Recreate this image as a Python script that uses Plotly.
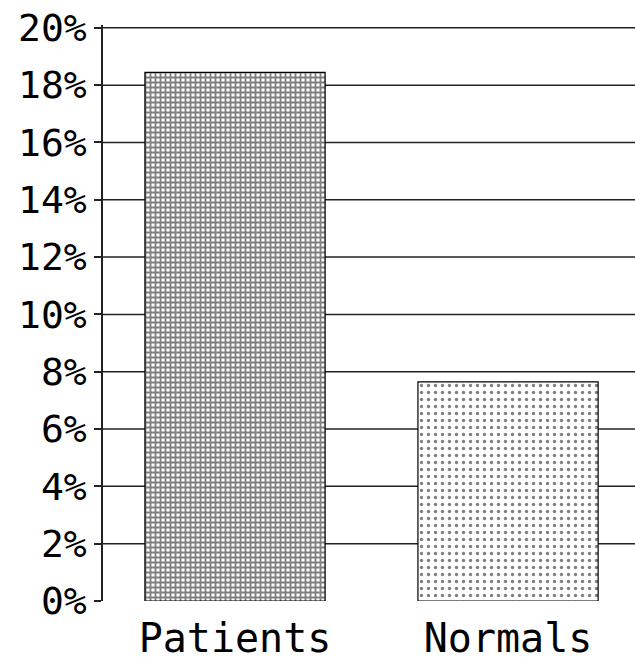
import plotly.graph_objects as go

categories = ["Patients", "Normals"]
values = [18.45, 7.65]
tick_values = [0, 2, 4, 6, 8, 10, 12, 14, 16, 18, 20]
tick_labels = ["0%", "2%", "4%", "6%", "8%", "10%", "12%", "14%", "16%", "18%", "20%"]

patterns = [
    dict(shape="+", size=5, solidity=0.6, fgcolor="black", bgcolor="white"),
    dict(shape=".", size=7, solidity=0.18, fgcolor="black", bgcolor="white"),
]

fig = go.Figure()
for cat, val, pat in zip(categories, values, patterns):
    fig.add_trace(go.Bar(
        x=[cat], y=[val],
        width=0.66,
        marker=dict(color="white", pattern=pat, line=dict(color="black", width=1.2)),
        showlegend=False,
    ))

for tv in tick_values[1:]:
    fig.add_shape(type="line", xref="paper", x0=0, x1=1, yref="y", y0=tv, y1=tv,
                  line=dict(color="#222", width=1.5), layer="below")

fig.update_layout(
    width=635, height=663,
    margin=dict(l=103, r=0, t=25, b=62),
    plot_bgcolor="white", paper_bgcolor="white",
    font=dict(family="DejaVu Sans Mono", color="black"),
    barmode="overlay",
    xaxis=dict(showgrid=False, showline=False, ticks="", tickfont=dict(size=40),
               ticklabelstandoff=10,
               range=[-0.4835, 1.465], automargin=False,
               categoryorder="array", categoryarray=categories),
    yaxis=dict(range=[0, 20.1], tickvals=tick_values, ticktext=tick_labels,
               showgrid=False, zeroline=False, showline=True, linecolor="#222", linewidth=1.5,
               ticks="outside", ticklen=7, tickcolor="#222", tickwidth=1.5,
               tickfont=dict(size=38), automargin=False),
)

fig.write_html("out.html", config={"displayModeBar": False},
               post_script="document.body.style.margin='0';document.body.style.overflow='hidden';")
